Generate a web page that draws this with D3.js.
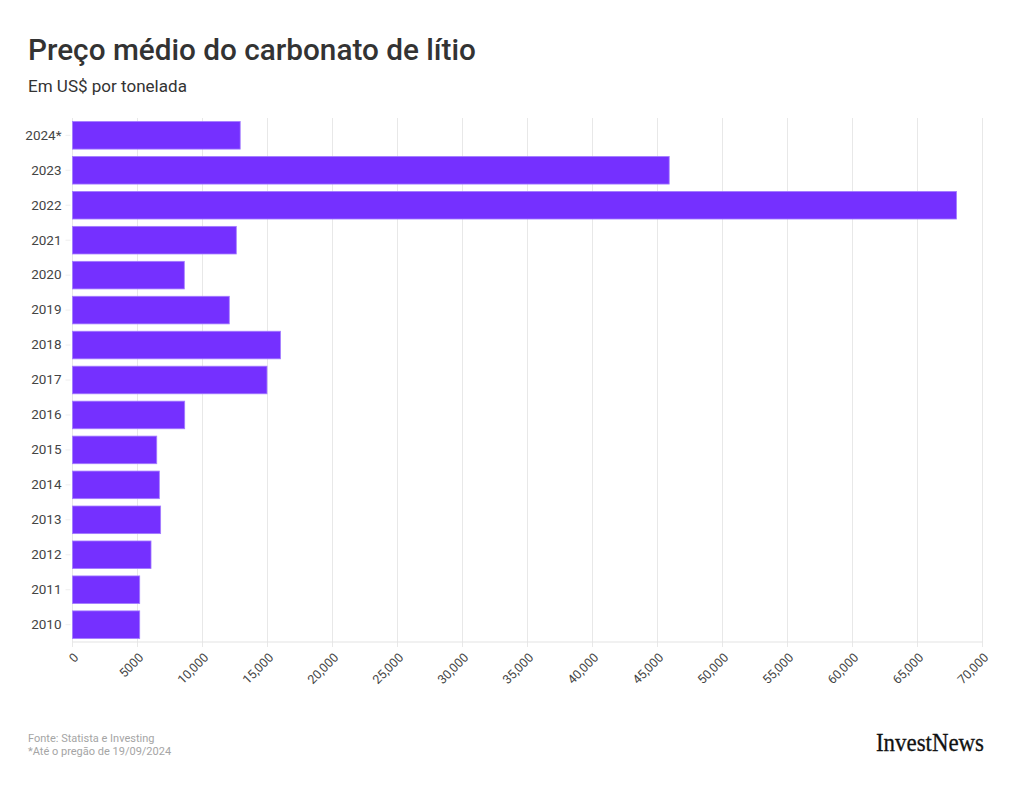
<!DOCTYPE html>
<html>
<head>
<meta charset="utf-8">
<script src="https://cdn.jsdelivr.net/npm/d3@7"></script>
<style>
  html, body { margin: 0; padding: 0; background: #fff; }
  svg { display: block; }
</style>
</head>
<body>
<svg id="chart" width="1020" height="809"></svg>
<script>
const categories = ["2024*", "2023", "2022", "2021", "2020", "2019", "2018", "2017", "2016", "2015", "2014", "2013", "2012", "2011", "2010"];
const values = [12900, 45900, 68000, 12600, 8600, 12060, 16000, 14960, 8630, 6480, 6680, 6780, 6040, 5170, 5170];
const tickValues = [0, 5000, 10000, 15000, 20000, 25000, 30000, 35000, 40000, 45000, 50000, 55000, 60000, 65000, 70000];
const tickLabels = ["0", "5000", "10,000", "15,000", "20,000", "25,000", "30,000", "35,000", "40,000", "45,000", "50,000", "55,000", "60,000", "65,000", "70,000"];

const title = "Preço médio do carbonato de lítio";
const subtitle = "Em US$ por tonelada";
const source1 = "Fonte: Statista e Investing";
const source2 = "*Até o pregão de 19/09/2024";
const logo = "InvestNews";

const svg = d3.select("#chart");
const font = "Roboto, 'Open Sans', sans-serif";

const margin = { left: 72.5, right: 1020 - 982.5, top: 118, bottom: 809 - 642 };
const W = 1020, H = 809;

const x = d3.scaleLinear().domain([0, 70000]).range([margin.left, W - margin.right]);
const y = d3.scaleBand().domain(categories).range([margin.top, H - margin.bottom]).paddingInner(0.21).paddingOuter(0.1);

// Title
const t = svg.append("text").attr("x", 28).attr("y", 60)
  .attr("font-family", font).attr("font-weight", 500).attr("font-size", 30)
  .attr("fill", "#333").text(title);
const tl = t.node().getComputedTextLength();
t.attr("font-size", 30 * 448 / tl);

const st = svg.append("text").attr("x", 28).attr("y", 92)
  .attr("font-family", font).attr("font-size", 16)
  .attr("fill", "#333").text(subtitle);
const stl = st.node().getComputedTextLength();
st.attr("font-size", 16 * 159 / stl);

// Gridlines
const grid = svg.append("g");
grid.selectAll("line").data(tickValues).join("line")
  .attr("x1", d => x(d)).attr("x2", d => x(d))
  .attr("y1", margin.top).attr("y2", H - margin.bottom + 5)
  .attr("stroke", "#e8e8e8").attr("stroke-width", 1);

// Baseline
svg.append("line")
  .attr("x1", margin.left).attr("x2", W - margin.right)
  .attr("y1", H - margin.bottom).attr("y2", H - margin.bottom)
  .attr("stroke", "#e3e3e3");

// Bars
svg.append("g").selectAll("rect").data(categories).join("rect")
  .attr("x", x(0))
  .attr("y", d => y(d))
  .attr("width", (d, i) => x(values[i]) - x(0))
  .attr("height", y.bandwidth())
  .attr("fill", "#7530ff")
  .attr("stroke", "#a47dff")
  .attr("stroke-width", 0.8);

// Y axis
const yAxis = d3.axisLeft(y).tickSize(5).tickPadding(4);
const gy = svg.append("g").attr("transform", `translate(${margin.left - 2},0)`).call(yAxis);
gy.select(".domain").remove();
gy.selectAll(".tick line").attr("stroke", "#eeeeee");
gy.selectAll(".tick text").attr("font-family", font).attr("font-size", 13.5).attr("fill", "#444");

// X axis
const xAxis = d3.axisBottom(x).tickValues(tickValues).tickFormat((d, i) => tickLabels[i]).tickSize(0).tickPadding(0);
const gx = svg.append("g").attr("transform", `translate(0,${H - margin.bottom + 10})`).call(xAxis);
gx.select(".domain").remove();
gx.selectAll(".tick text")
  .attr("font-family", font).attr("font-size", 12.5).attr("fill", "#444")
  .attr("text-anchor", "end")
  .attr("dy", "0.71em")
  .attr("transform", "translate(0,0) rotate(-45)");

// Footer
svg.append("text").attr("x", 28).attr("y", 742)
  .attr("font-family", font).attr("font-size", 11).attr("fill", "#a5a5a5").text(source1);
svg.append("text").attr("x", 28).attr("y", 755)
  .attr("font-family", font).attr("font-size", 11).attr("fill", "#a5a5a5").text(source2);

const lg = svg.append("text").attr("x", 876).attr("y", 751)
  .attr("font-family", "'Liberation Serif', 'DejaVu Serif', serif").attr("font-size", 25)
  .attr("font-weight", 500)
  .attr("fill", "#111").attr("stroke", "#111").attr("stroke-width", 0.3).text(logo);
lg.attr("textLength", 108).attr("lengthAdjust", "spacingAndGlyphs");
</script>
</body>
</html>
